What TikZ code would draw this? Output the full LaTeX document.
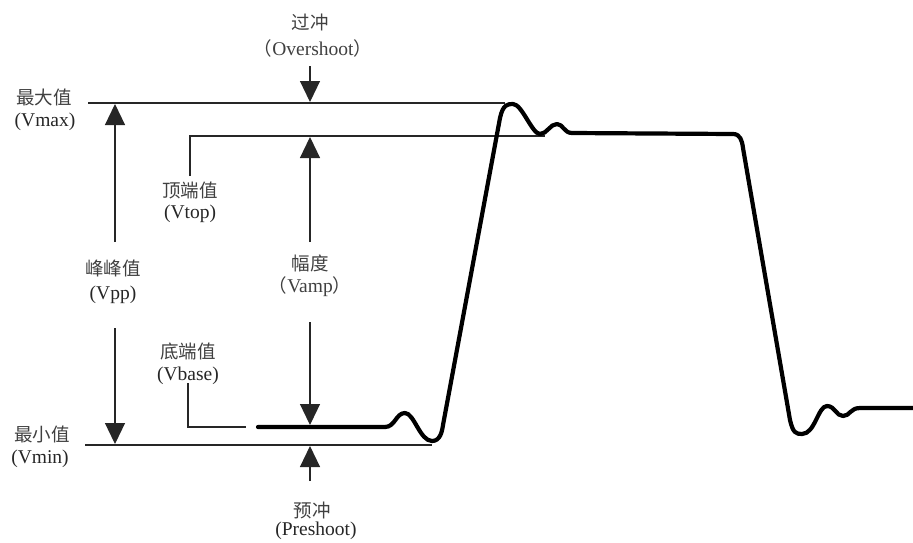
\documentclass[tikz,border=0pt]{standalone}
\usepackage{fontspec}
\setmainfont{Liberation Serif}
\newfontfamily\cjk{Noto Sans CJK SC}
\usetikzlibrary{arrows.meta}
\begin{document}
\begin{tikzpicture}[x=1pt,y=-1pt,
  thinline/.style={draw=black!85,line width=1.2pt},
  meas/.style={thinline,-{Triangle[width=20pt,length=21pt]}},
  wave/.style={draw=black,line width=4.2pt,line join=round,line cap=round},
  zh/.style={font=\cjk\fontsize{18.5}{20}\selectfont,text=black!75,inner sep=0pt},
  en/.style={font=\fontsize{19.5}{21}\selectfont,text=black!85,inner sep=0pt}]
\useasboundingbox (0,0) rectangle (913,542);
% reference lines
\coordinate (vmaxL) at (88,103);   \coordinate (vmaxR) at (505,103);
\coordinate (vtopT) at (190,176);  \coordinate (vtopC) at (190,136); \coordinate (vtopR) at (545,136);
\coordinate (vbaseT) at (188,383); \coordinate (vbaseC) at (188,427); \coordinate (vbaseR) at (246,427);
\coordinate (vminL) at (85,445);   \coordinate (vminR) at (432,445);
\draw[thinline] (vmaxL) -- (vmaxR);
\draw[thinline] (vtopT) -- (vtopC) -- (vtopR);
\draw[thinline] (vbaseT) -- (vbaseC) -- (vbaseR);
\draw[thinline] (vminL) -- (vminR);
% arrows
\coordinate (osT) at (310,66);   \coordinate (osH) at (310,102);
\coordinate (psT) at (310,481);  \coordinate (psH) at (310,446);
\coordinate (vaT1) at (310,242); \coordinate (vaH1) at (310,137);
\coordinate (vaT2) at (310,322); \coordinate (vaH2) at (310,425);
\coordinate (vpT1) at (115,242); \coordinate (vpH1) at (115,104);
\coordinate (vpT2) at (115,328); \coordinate (vpH2) at (115,444);
\draw[meas] (osT) -- (osH);
\draw[meas] (psT) -- (psH);
\draw[meas] (vaT1) -- (vaH1);
\draw[meas] (vaT2) -- (vaH2);
\draw[meas] (vpT1) -- (vpH1);
\draw[meas] (vpT2) -- (vpH2);
% waveform
\draw[wave] (258,427) -- (385,427)
  .. controls (395,427) and (396,413) .. (405,413)
  .. controls (414,413) and (420,441) .. (432,441)
  .. controls (440,441) and (442,432) .. (443,425)
  -- (500,118)
  .. controls (503,104) and (508,104) .. (513,104)
  .. controls (522,104) and (532,134) .. (540,134)
  .. controls (547,134) and (550,124) .. (557,124)
  .. controls (563,124) and (564,133) .. (572,133)
  -- (733,134)
  .. controls (740,134) and (742,140) .. (743,148)
  -- (790,420)
  .. controls (793,433) and (796,434) .. (802,434)
  .. controls (815,434) and (818,406) .. (827,406)
  .. controls (835,406) and (836,416) .. (843,416)
  .. controls (850,416) and (850,408) .. (860,408)
  -- (913,408);
% labels
\node[zh] (os1) at (310,22) {过冲};
\node[zh] (os2) at (313,48) {（\textrm{\fontsize{19.5}{21}\selectfont Overshoot}）};
\node[zh] (mx1) at (44,97) {最大值};
\node[en] (mx2) at (45,122) {(Vmax)};
\node[zh] (tp1) at (190,190) {顶端值};
\node[en] (tp2) at (190,214) {(Vtop)};
\node[zh] (pp1) at (113,268) {峰峰值};
\node[en] (pp2) at (113,295) {(Vpp)};
\node[zh] (am1) at (310,263) {幅度};
\node[zh] (am2) at (310,287) {（\textrm{\fontsize{19.5}{21}\selectfont Vamp}）};
\node[zh] (bs1) at (188,351) {底端值};
\node[en] (bs2) at (188,376) {(Vbase)};
\node[zh] (mn1) at (42,434) {最小值};
\node[en] (mn2) at (40,459) {(Vmin)};
\node[zh] (ps1) at (312,510) {预冲};
\node[en] (ps2) at (316,531) {(Preshoot)};
\end{tikzpicture}
\end{document}
